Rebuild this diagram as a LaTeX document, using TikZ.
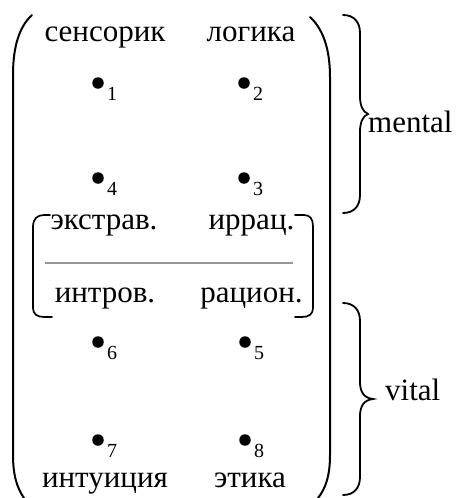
\documentclass[tikz,border=0pt]{standalone}
\usepackage{fontspec}
\setmainfont{Liberation Serif}
\begin{document}
\begin{tikzpicture}[x=1pt,y=-1pt,
  lbl/.style={inner sep=0pt, font=\fontsize{31}{36}\selectfont, anchor=base},
  sublbl/.style={inner sep=0pt, font=\fontsize{20}{24}\selectfont, anchor=base west},
  dotn/.style={circle, fill=black, inner sep=0pt, minimum size=11.5pt},
  paren/.style={line width=2pt, line cap=round},
  brace/.style={line width=1.8pt, line cap=round},
  bracket/.style={line width=1.7pt, line cap=round},
  sep/.style={line width=1.5pt, draw={rgb,255:red,150;green,150;blue,150}}]
\useasboundingbox (0,0) rectangle (458,498);

% texts
\node[lbl] (sens) at (105,41) {сенсорик};
\node[lbl] (log) at (251,41) {логика};
\node[lbl] (ext) at (104,229) {экстрав.};
\node[lbl] (irr) at (251.5,229) {иррац.};
\node[lbl] (intr) at (105,302) {интров.};
\node[lbl] (rac) at (251.5,302) {рацион.};
\node[lbl] (intu) at (105,487) {интуиция};
\node[lbl] (eth) at (250,487) {этика};
\node[lbl, anchor=base west] (ment) at (368,132) {mental};
\node[lbl, anchor=base west] (vit) at (385,400) {vital};

% dots
\node[dotn] (d1) at (98,83) {};
\node[dotn] (d2) at (244,83) {};
\node[dotn] (d4) at (98,178) {};
\node[dotn] (d3) at (244,178) {};
\node[dotn] (d6) at (98,342) {};
\node[dotn] (d5) at (245,342) {};
\node[dotn] (d7) at (98,440) {};
\node[dotn] (d8) at (245,440) {};
\node[sublbl] (s1) at (107,100) {1};
\node[sublbl] (s2) at (253,100) {2};
\node[sublbl] (s4) at (107,195) {4};
\node[sublbl] (s3) at (253,195) {3};
\node[sublbl] (s6) at (107,359) {6};
\node[sublbl] (s5) at (254,359) {5};
\node[sublbl] (s7) at (107,457) {7};
\node[sublbl] (s8) at (254,457) {8};

% separator line
\coordinate (sepL) at (45,263);
\coordinate (sepR) at (293,263);
\draw[sep] (sepL) -- (sepR);

% big parentheses
\draw[paren] (32,15) .. controls (20,26) and (13,45) .. (13,75) -- (13,455) .. controls (13,475) and (17,488) .. (24,498);
\draw[paren] (310,17) .. controls (322,28) and (330,47) .. (330,77) -- (330,455) .. controls (330,475) and (326,488) .. (318,498);

% inner brackets
\draw[bracket] (50,215) -- (44,215) .. controls (37,215) and (33,219) .. (33,227) -- (33,308) .. controls (33,314) and (37,317) .. (44,317) -- (52,317);
\draw[bracket] (295,215) -- (304,215) .. controls (310,215) and (313,219) .. (313,226) -- (313,308) .. controls (313,314) and (309,317) .. (302,317) -- (295,317);

% braces
\draw[brace] (343,15) .. controls (354,15) and (360,22) .. (360,33) -- (360,96) .. controls (360,106) and (363,112) .. (368,114)
  .. controls (363,116) and (360,122) .. (360,132) -- (360,195) .. controls (360,206) and (354,213) .. (343,213);
\draw[brace] (343,303) .. controls (354,303) and (360,310) .. (360,321) -- (360,382) .. controls (360,392) and (364,398) .. (373,399)
  .. controls (364,400) and (360,406) .. (360,416) -- (360,477) .. controls (360,488) and (354,495) .. (343,495);
\end{tikzpicture}
\end{document}
